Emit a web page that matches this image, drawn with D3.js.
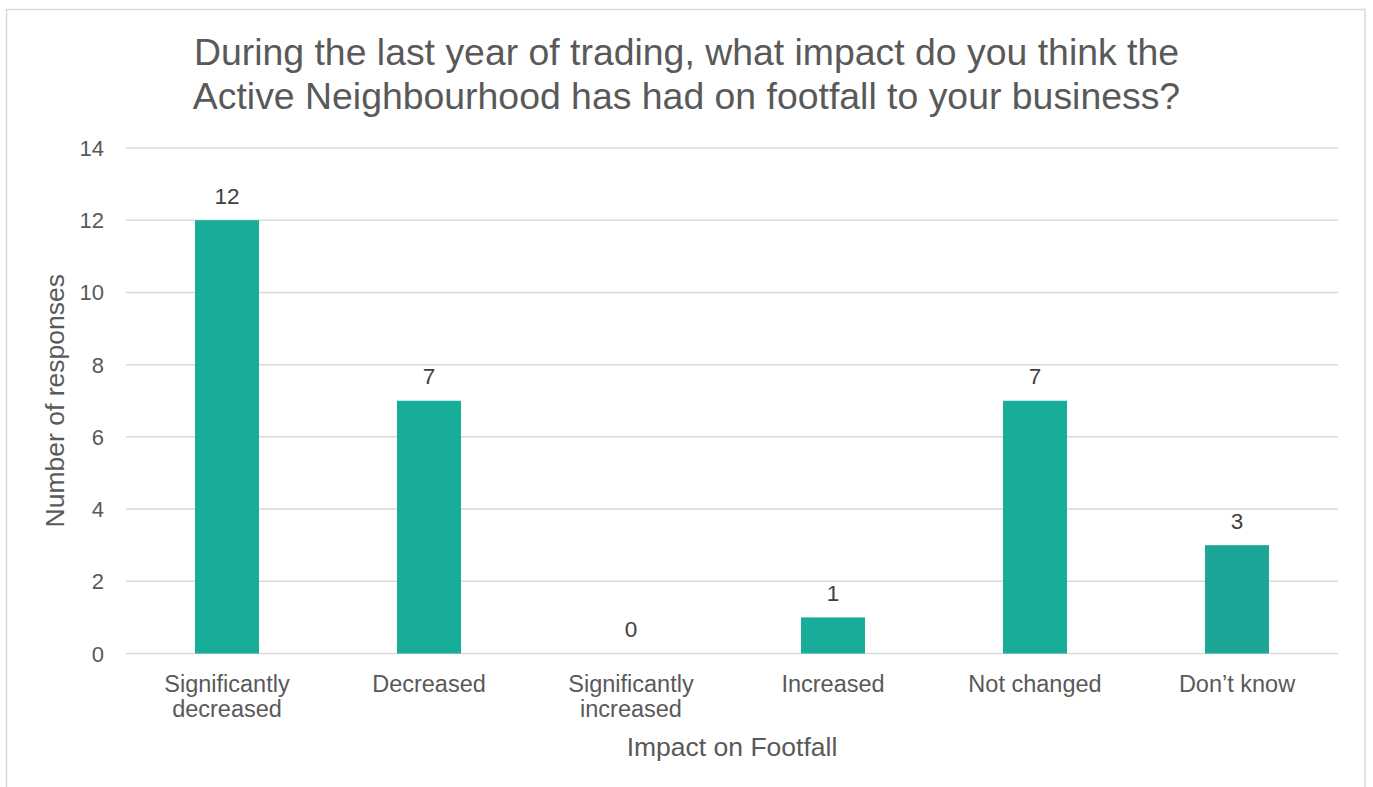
<!DOCTYPE html>
<html>
<head>
<meta charset="utf-8">
<script src="https://cdn.jsdelivr.net/npm/d3@7"></script>
<style>
  html, body { margin: 0; padding: 0; background: #fff; }
  svg { display: block; }
  text { font-family: "Liberation Sans", Arial, sans-serif; }
</style>
</head>
<body>
<svg id="chart" width="1373" height="787"></svg>
<script>
const categories = ["Significantly decreased", "Decreased", "Significantly increased", "Increased", "Not changed", "Don\u2019t know"];
const categoryLines = [["Significantly", "decreased"], ["Decreased"], ["Significantly", "increased"], ["Increased"], ["Not changed"], ["Don\u2019t know"]];
const values = [12, 7, 0, 1, 7, 3];
const barColors = ["#17ad99", "#17ad99", "#17ad99", "#17ad99", "#17ad99", "#1ca697"];
const yTicks = [0, 2, 4, 6, 8, 10, 12, 14];
const titleLines = ["During the last year of trading, what impact do you think the", "Active Neighbourhood has had on footfall to your business?"];
const xTitle = "Impact on Footfall";
const yTitle = "Number of responses";

const svg = d3.select("#chart");
const W = 1373, H = 787;
const plot = { left: 126, right: 1338, top: 148, bottom: 653.5 };

// outer border
svg.append("rect")
  .attr("x", 6.5).attr("y", 9.5)
  .attr("width", 1365 - 6.5).attr("height", H + 10)
  .attr("fill", "#fff").attr("stroke", "#d9d9d9").attr("stroke-width", 1.5);

const x = d3.scaleBand().domain(categories)
  .range([plot.left, plot.right])
  .paddingInner(0.683).paddingOuter(0.3415);
const y = d3.scaleLinear().domain([0, 14]).range([plot.bottom, plot.top]);

// gridlines
svg.append("g").selectAll("line").data(yTicks).join("line")
  .attr("x1", plot.left).attr("x2", plot.right)
  .attr("y1", d => y(d)).attr("y2", d => y(d))
  .attr("stroke", "#d9d9d9").attr("stroke-width", 1.5);

// y tick labels
svg.append("g").selectAll("text").data(yTicks).join("text")
  .attr("x", 104).attr("y", d => y(d) + 8)
  .attr("text-anchor", "end")
  .attr("font-size", 22).attr("fill", "#595959")
  .text(d => d);

// bars
svg.append("g").selectAll("rect").data(values).join("rect")
  .attr("x", (d, i) => x(categories[i]))
  .attr("width", x.bandwidth())
  .attr("y", d => y(d))
  .attr("height", d => y(0) - y(d))
  .attr("fill", (d, i) => barColors[i]);

// data labels
svg.append("g").selectAll("text").data(values).join("text")
  .attr("x", (d, i) => x(categories[i]) + x.bandwidth() / 2)
  .attr("y", d => y(d) - 16.5)
  .attr("text-anchor", "middle")
  .attr("font-size", 22.5).attr("fill", "#404040")
  .text(d => d);

// x category labels
const xl = svg.append("g").selectAll("text").data(categories).join("text")
  .attr("x", d => x(d) + x.bandwidth() / 2)
  .attr("y", 691.5)
  .attr("text-anchor", "middle")
  .attr("font-size", 23.5).attr("fill", "#595959");
xl.each(function(d, i) {
  const t = d3.select(this);
  categoryLines[i].forEach((line, j) => {
    t.append("tspan").attr("x", x(d) + x.bandwidth() / 2).attr("dy", j === 0 ? 0 : 25.7).text(line);
  });
});

// title
svg.append("g").selectAll("text").data(titleLines).join("text")
  .attr("x", 686.5).attr("y", (d, i) => 64.5 + i * 44)
  .attr("text-anchor", "middle")
  .attr("font-size", 37.4).attr("fill", "#595959")
  .text(d => d);

// axis titles
svg.append("text")
  .attr("x", (plot.left + plot.right) / 2).attr("y", 756)
  .attr("text-anchor", "middle")
  .attr("font-size", 26.5).attr("fill", "#595959")
  .text(xTitle);

svg.append("text")
  .attr("transform", `translate(64, ${(plot.top + plot.bottom) / 2}) rotate(-90)`)
  .attr("text-anchor", "middle")
  .attr("font-size", 26.5).attr("fill", "#595959")
  .text(yTitle);
</script>
</body>
</html>
